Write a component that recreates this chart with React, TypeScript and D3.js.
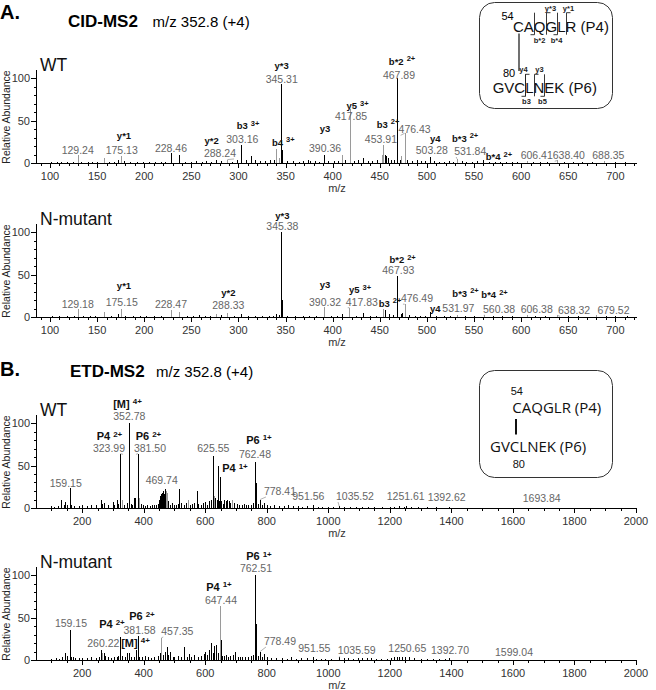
import React from 'react';
import * as d3 from 'd3';

// peaks: [m/z, relative abundance, grey?]
type Peak = [number, number, number?];
type Note = {
  ion?: string; ch?: string; ix?: number; iy?: number;
  num?: string; nx?: number; ny?: number; pk?: number; lead?: boolean;
};

const CID_WT: Peak[] = [
  [101, 1], [107, 1.5], [112, 1], [118, 1], [124, 1.5], [129.24, 9, 1], [133, 1], [140, 1.5], [145, 1], [150, 1],
  [157, 6, 1], [163, 1], [168, 1.5], [172, 4], [175.13, 8, 1], [178, 2], [185, 1], [192, 1.5], [199, 1], [205, 1],
  [211, 1.5], [218, 1], [222, 1.5], [228.46, 12], [237, 9], [243, 1.5], [250, 1], [255, 2], [261, 1.5], [266, 2],
  [271, 1.5], [276, 4], [281, 2], [288.24, 4, 1], [293, 1.5], [298, 3], [303.16, 21], [308, 3], [313, 8], [318, 3],
  [323, 2], [328, 2], [333, 3], [338, 4], [340.3, 17, 1], [342.5, 6, 1], [345.31, 93], [346.3, 15], [352, 2], [358, 2],
  [364, 1.5], [369, 2], [374, 3], [376, 2.5], [381, 2], [386, 1.5], [390.36, 10], [395, 2], [401, 2], [406, 2],
  [410, 9, 1], [413, 3], [417.85, 63, 1], [423, 2], [427, 3], [432, 6], [437, 2], [442, 2], [447, 3], [452, 10, 1],
  [453.91, 21, 1], [455.5, 10], [457, 8], [459, 6], [462, 3], [465, 3], [467.89, 100], [468.2, 19], [471, 4], [473, 8, 1],
  [476.43, 35, 1], [479, 3], [484, 2], [489, 3], [494, 2], [498, 2], [503.28, 7], [508, 2], [513, 1.5], [518, 1],
  [523, 2], [528, 1.5], [531.84, 5, 1], [537, 2], [542, 1.5], [548, 1], [553, 2], [560, 3], [566, 1], [572, 1],
  [578, 1], [584, 1], [590, 1], [596, 1], [606.41, 2, 1], [613, 1], [620, 1], [628, 1], [638.4, 3, 1], [645, 1],
  [655, 1], [665, 1], [675, 1], [688.35, 2, 1], [700, 1], [710, 1],
];

const CID_NM: Peak[] = [
  [102, 1], [110, 1], [118, 1], [125, 1], [129.18, 9, 1], [135, 1], [142, 1.5], [148, 1], [157, 6, 1], [165, 1],
  [172, 3], [175.15, 10, 1], [180, 1.5], [188, 1], [195, 1], [202, 1], [210, 1], [218, 1], [228.47, 8, 1], [237, 6, 1],
  [245, 1], [252, 1], [258, 2], [264, 1.5], [270, 1], [276, 4, 1], [281, 2], [288.33, 5, 1], [295, 1.5], [303, 3],
  [310, 1.5], [318, 1], [325, 1], [332, 1.5], [337, 1.5], [340, 4], [343, 2], [345.38, 100], [346.4, 20], [352, 1],
  [360, 1], [368, 1], [375, 1.5], [382, 1], [390.32, 12, 1], [398, 1], [405, 1], [410, 3], [417.83, 11, 1], [425, 1.5],
  [432, 5], [440, 1.5], [446, 1.5], [453, 10, 1], [456, 8], [460, 3], [464, 2], [467.93, 48], [468.3, 10], [472, 3],
  [474, 5], [476.49, 15, 1], [481, 2], [487, 1.5], [493, 1], [498, 1.5], [503.3, 6], [510, 1], [518, 1], [525, 1],
  [531.97, 2, 1], [540, 1], [550, 1], [560.38, 2, 1], [570, 1], [580, 1], [590, 1], [606.38, 2, 1], [615, 1], [625, 1],
  [638.32, 2, 1], [650, 1], [660, 1], [679.52, 2, 1], [690, 1], [700, 1], [712, 1],
];

const ETD_WT: Peak[] = [
  [100, 2], [110, 1], [122, 2], [130, 9], [140, 3], [145, 7], [152, 4], [159.15, 23], [165, 3], [175, 2],
  [190, 2], [200, 3], [215, 2], [230, 3], [245, 4], [260, 9], [265, 5], [272, 6], [285, 3], [300, 7],
  [305, 4], [312, 10], [318, 5], [323.99, 64], [330, 10, 1], [337, 4], [345, 6], [352.78, 100], [358, 5], [363, 4],
  [367, 12], [372, 12], [381.5, 64], [384, 12, 1], [390, 5], [398, 3], [405, 2], [412, 3], [420, 2], [428, 3],
  [435, 4], [440, 3], [445, 5], [450, 10], [453, 14], [456, 16], [459, 18], [462, 20], [465, 16], [469.74, 22],
  [472, 20, 1], [476, 18, 1], [480, 8], [486, 4], [492, 6], [500, 4], [505, 3], [510, 5], [516, 22], [522, 6],
  [530, 4], [538, 6], [543, 10, 1], [550, 4], [557, 5], [565, 6], [572, 20], [578, 5], [585, 4], [592, 6],
  [600, 7], [606, 4], [613, 8], [618, 10], [625.55, 61], [628, 14, 1], [633, 12], [638, 10], [641.5, 50], [644, 8],
  [647.44, 36], [652, 8], [658, 5], [662, 9], [668, 8], [672, 9], [677, 8], [682, 6], [688, 10, 1], [695, 6],
  [702, 5], [710, 4], [718, 3], [725, 5], [732, 4], [740, 3], [748, 4], [755, 6], [762.48, 54], [765, 30],
  [770, 5], [778.41, 10], [784, 4], [790, 6], [800, 3], [812, 2], [825, 3], [840, 2], [855, 2], [870, 3],
  [885, 2], [900, 2], [915, 1.5], [930, 2], [951.56, 3], [965, 1.5], [980, 1], [1000, 1.5], [1015, 1], [1035.52, 2],
  [1050, 1], [1070, 1], [1090, 1.5], [1110, 1], [1130, 1], [1150, 1], [1175, 1], [1200, 1], [1215, 1.5], [1230, 2],
  [1245, 1.5], [1251.61, 2], [1270, 1], [1290, 1], [1320, 1], [1350, 1], [1392.62, 1], [1450, 0.5], [1550, 0.5], [1693.84, 0.5],
];

const ETD_NM: Peak[] = [
  [100, 1], [115, 2], [125, 1], [135, 3], [145, 8], [152, 5], [159.15, 35], [163, 4], [170, 3], [178, 2],
  [190, 2], [200, 2], [215, 2], [230, 3], [245, 2], [255, 3], [260.22, 12], [266, 8, 1], [270, 8], [275, 5],
  [283, 3], [295, 2], [305, 3], [313, 4], [318, 5], [323.5, 27], [330, 5], [340, 3], [347, 8], [352.8, 8],
  [360, 3], [370, 4], [376, 12], [381.58, 28], [386, 4], [395, 3], [405, 5], [415, 3], [425, 2], [435, 3],
  [445, 5], [452, 8], [457.35, 26, 1], [462, 6], [470, 10], [475, 15], [480, 6], [486, 10], [494, 4], [500, 3],
  [510, 5], [520, 4], [532, 15], [540, 4], [546, 7], [555, 4], [565, 6], [575, 4], [585, 5], [595, 7],
  [600, 10], [605, 6], [612, 12], [620, 20], [625, 8], [630, 17], [636, 18], [641, 8], [647.44, 64, 1], [650, 24],
  [656, 5], [662, 5], [668, 6], [675, 4], [682, 5], [690, 6], [698, 9], [705, 4], [712, 3], [720, 3],
  [730, 4], [740, 3], [748, 5], [755, 6], [762.51, 100], [765, 42], [770, 5], [778.49, 10], [785, 4], [790, 7],
  [800, 3], [815, 2], [830, 2], [850, 2], [865, 1.5], [880, 3], [895, 1.5], [910, 2], [930, 2], [951.55, 3],
  [960, 1.5], [975, 1], [990, 1.5], [1010, 1], [1035.59, 3], [1050, 2], [1065, 2], [1080, 1.5], [1095, 2], [1110, 2.5],
  [1125, 2], [1140, 2.5], [1155, 1.5], [1170, 1], [1190, 1.5], [1205, 2], [1215, 3], [1222, 4], [1230, 4], [1238, 3],
  [1250.65, 4], [1262, 3], [1280, 2], [1300, 1], [1320, 1], [1340, 1], [1360, 1], [1380, 1], [1392.7, 2], [1420, 0.5],
  [1480, 0.5], [1599.04, 0.5],
];

// label positions in data units (m/z, % abundance)
const CID_WT_NOTES: Note[] = [
  { num: '129.24', nx: 129.4, ny: 10.6 },
  { ion: 'y*1', ix: 178.5, iy: 28.2, num: '175.13', nx: 176.1, ny: 10.6 },
  { num: '228.46', nx: 228.4, ny: 13.3 },
  { ion: 'y*2', ix: 271.6, iy: 22, num: '288.24', nx: 280.4, ny: 7.1, pk: 288.24, lead: true },
  { ion: 'b3', ch: '3+', ix: 310.2, iy: 39.5, num: '303.16', nx: 304.1, ny: 23.2 },
  { ion: 'b4', ch: '3+', ix: 347.5, iy: 20.4 },
  { ion: 'y*3', ix: 345.9, iy: 110.2, num: '345.31', nx: 345.9, ny: 93.8 },
  { ion: 'y3', ix: 391.9, iy: 36.8, num: '390.36', nx: 391.9, ny: 12.6 },
  { ion: 'y5', ch: '3+', ix: 426.4, iy: 63, num: '417.85', nx: 419.5, ny: 50.6 },
  { ion: 'b3', ch: '2+', ix: 458.8, iy: 41.2, num: '453.91', nx: 451.2, ny: 23.9 },
  { ion: 'b*2', ch: '2+', ix: 473.6, iy: 115.3, num: '467.89', nx: 470.4, ny: 98.5 },
  { num: '476.43', nx: 487, ny: 34.9, pk: 476.43, lead: true },
  { ion: 'y4', ix: 509, iy: 25, num: '503.28', nx: 505.2, ny: 10.6 },
  { ion: 'b*3', ch: '2+', ix: 540.5, iy: 25.1, num: '531.84', nx: 546, ny: 9.4, pk: 531.84, lead: true },
  { ion: 'b*4', ch: '2+', ix: 576.5, iy: 3.5 },
  { num: '606.41', nx: 616.6, ny: 4.4 },
  { num: '638.40', nx: 650.6, ny: 4.4, pk: 638.4, lead: true },
  { num: '688.35', nx: 692.6, ny: 4.4 },
];

const CID_NM_NOTES: Note[] = [
  { num: '129.18', nx: 129.4, ny: 10.9 },
  { ion: 'y*1', ix: 178.5, iy: 32.6, num: '175.15', nx: 176.1, ny: 12.9 },
  { num: '228.47', nx: 228.4, ny: 10.2 },
  { ion: 'y*2', ix: 289.2, iy: 24.5, num: '288.33', nx: 289.2, ny: 9.1 },
  { ion: 'y*3', ix: 346.6, iy: 115.3, num: '345.38', nx: 346.6, ny: 102.4 },
  { ion: 'y3', ix: 391.9, iy: 33.8, num: '390.32', nx: 391.9, ny: 13.3 },
  { ion: 'y5', ch: '3+', ix: 429, iy: 28, num: '417.83', nx: 430.9, ny: 13.3, pk: 417.83, lead: true },
  { ion: 'b3', ch: '2+', ix: 460.8, iy: 12.1 },
  { ion: 'b*2', ch: '2+', ix: 474.2, iy: 63.2, num: '467.93', nx: 469.7, ny: 50.2 },
  { num: '476.49', nx: 489.5, ny: 17.5, pk: 476.49, lead: true },
  { ion: 'y4', ix: 509, iy: 6 },
  { ion: 'b*3', ch: '2+', ix: 541, iy: 23.9, num: '531.97', nx: 533.4, ny: 6.3 },
  { ion: 'b*4', ch: '2+', ix: 571.8, iy: 22, num: '560.38', nx: 576.6, ny: 4.4, pk: 560.38, lead: true },
  { num: '606.38', nx: 616.6, ny: 4.4 },
  { num: '638.32', nx: 656.2, ny: 3.2, pk: 638.32, lead: true },
  { num: '679.52', nx: 698, ny: 3.2 },
];

const ETD_WT_NOTES: Note[] = [
  { num: '159.15', nx: 146.5, ny: 25.1 },
  { ion: 'P4', ch: '2+', ix: 288.9, iy: 79.5, num: '323.99', nx: 287.2, ny: 65.5, pk: 323.99, lead: true },
  { ion: '[M]', ch: '4+', ix: 347.4, iy: 117.8, num: '352.78', nx: 353.2, ny: 103.3 },
  { ion: 'P6', ch: '2+', ix: 415.6, iy: 79.5, num: '381.50', nx: 420.5, ny: 65.5, pk: 381.5, lead: true },
  { num: '469.74', nx: 458.5, ny: 27.9 },
  { num: '625.55', nx: 626.2, ny: 65.5 },
  { ion: 'P4', ch: '1+', ix: 696.7, iy: 42 },
  { ion: 'P6', ch: '1+', ix: 774.7, iy: 75.5, num: '762.48', nx: 761.7, ny: 58.5 },
  { num: '778.41', nx: 843, ny: 15.3, pk: 778.41, lead: true },
  { num: '951.56', nx: 935, ny: 9.4 },
  { num: '1035.52', nx: 1086.7, ny: 9.4, pk: 1035.52, lead: true },
  { num: '1251.61', nx: 1251.5, ny: 9.4 },
  { num: '1392.62', nx: 1384.7, ny: 8.2 },
  { num: '1693.84', nx: 1693.5, ny: 7.4 },
];

const ETD_NM_NOTES: Note[] = [
  { num: '159.15', nx: 163.7, ny: 39.2 },
  { ion: 'P4', ch: '2+', ix: 297, iy: 37.3 },
  { ion: 'P6', ch: '2+', ix: 394.5, iy: 46.5, num: '381.58', nx: 386.5, ny: 30.5 },
  { ion: '[M]', ch: '4+', ix: 373.4, iy: 15.5 },
  { num: '260.22', nx: 268.7, ny: 14.9 },
  { num: '457.35', nx: 509.2, ny: 29.4, pk: 457.35, lead: true },
  { ion: 'P4', ch: '1+', ix: 644.7, iy: 81.2, num: '647.44', nx: 651.2, ny: 65.5 },
  { ion: 'P6', ch: '1+', ix: 774.7, iy: 117.6, num: '762.51', nx: 765, ny: 103.9 },
  { num: '778.49', nx: 843, ny: 17.6, pk: 778.49, lead: true },
  { num: '951.55', nx: 954.5, ny: 9.8 },
  { num: '1035.59', nx: 1092.2, ny: 6.7, pk: 1035.59, lead: true },
  { num: '1250.65', nx: 1256.7, ny: 9.8 },
  { num: '1392.70', nx: 1395.5, ny: 6.7 },
  { num: '1599.04', nx: 1603.5, ny: 4.7 },
];

const Y_TICKS = [0, 50, 100];
const CID_TICKS = d3.range(100, 701, 50);
const CID_MINOR = d3.range(90, 721, 10);
const ETD_TICKS = d3.range(200, 2001, 200);
const ETD_MINOR = d3.range(100, 2001, 50);

const FONT = "'Liberation Sans', Arial, Helvetica, sans-serif";

const xCID = d3.scaleLinear().domain([85.1, 723]).range([36, 637]);
const xETD = d3.scaleLinear().domain([50, 2000]).range([36, 636]);

function Spectrum({ peaks, notes, x, y0, name, ticks, minor, ionSize, supSize }: {
  peaks: Peak[]; notes: Note[]; x: d3.ScaleLinear<number, number>; y0: number; name: string;
  ticks: number[]; minor: number[]; ionSize: number; supSize: number;
}) {
  const y = d3.scaleLinear().domain([0, 100]).range([y0, y0 - 85]);
  const [xa, xb] = x.range();
  const peakTop = (m: number) => {
    const p = peaks.reduce((a, b) => (Math.abs(b[0] - m) < Math.abs(a[0] - m) ? b : a));
    return y(p[1]);
  };
  return (
    <g fontFamily={FONT}>
      {peaks.map(([m, v, g], i) => (
        <line key={i} x1={Math.round(x(m)) + 0.5} x2={Math.round(x(m)) + 0.5} y1={y0} y2={y(v)}
          stroke={g ? '#9a9a9a' : '#000'} strokeWidth={1} shapeRendering="crispEdges" />
      ))}
      {/* axes */}
      <line x1={xa} x2={xb} y1={y0 + 0.5} y2={y0 + 0.5} stroke="#000" shapeRendering="crispEdges" />
      <line x1={xa + 0.5} x2={xa + 0.5} y1={y0} y2={y(110)} stroke="#000" shapeRendering="crispEdges" />
      {minor.filter(t => x(t) >= xa && x(t) <= xb + 1).map(t => (
        <line key={'m' + t} x1={Math.round(x(t)) + 0.5} x2={Math.round(x(t)) + 0.5} y1={y0} y2={y0 + 3}
          stroke="#000" shapeRendering="crispEdges" />
      ))}
      {ticks.map(t => (
        <g key={t}>
          <line x1={Math.round(x(t)) + 0.5} x2={Math.round(x(t)) + 0.5} y1={y0} y2={y0 + 5} stroke="#000" shapeRendering="crispEdges" />
          <text x={x(t)} y={y0 + 17} textAnchor="middle" fontSize={11} fill="#333">{t}</text>
        </g>
      ))}
      {d3.range(10, 110, 10).map(t => (
        <line key={'ym' + t} x1={xa - 2} x2={xa} y1={Math.round(y(t)) + 0.5} y2={Math.round(y(t)) + 0.5}
          stroke="#000" shapeRendering="crispEdges" />
      ))}
      {Y_TICKS.map(t => (
        <g key={'y' + t}>
          <line x1={xa - 5} x2={xa} y1={Math.round(y(t)) + 0.5} y2={Math.round(y(t)) + 0.5} stroke="#000" shapeRendering="crispEdges" />
          <text x={xa - 6} y={y(t) + 4} textAnchor="end" fontSize={11} fill="#333">{t}</text>
        </g>
      ))}
      <text transform={`translate(10,${y0 - 46}) rotate(-90)`} textAnchor="middle" fontSize={10.5} fill="#222">
        Relative Abundance
      </text>
      <text x={337} y={y0 + 29} textAnchor="middle" fontSize={11} fill="#333">m/z</text>
      <text x={40} y={y0 - 92} fontSize={17.5} fill="#111">{name}</text>
      {/* annotations */}
      {notes.map((n, i) => {
        const parts: React.ReactNode[] = [];
        if (n.num && n.lead && n.pk !== undefined) {
          const w = (n.num.length - 1) * 5.84 + 2.9;
          const px = x(n.pk);
          const cx = x(n.nx!);
          const ex = px > cx ? cx + w / 2 - 2 : cx - w / 2 + 2;
          parts.push(<line key="l" x1={px} y1={peakTop(n.pk)} x2={ex} y2={y(n.ny!) + 2}
            stroke="#a0a0a0" strokeWidth={0.8} />);
        }
        if (n.num) {
          parts.push(<text key="n" x={x(n.nx!)} y={y(n.ny!)} textAnchor="middle" fontSize={10.5} fill="#666">{n.num}</text>);
        }
        if (n.ion) {
          parts.push(
            <text key="i" x={x(n.ix!)} y={y(n.iy!)} textAnchor="middle" fontSize={ionSize} fontWeight="bold" fill="#111">
              <tspan>{n.ion}</tspan>
              {n.ch && <tspan dx={3} dy={-3.5} fontSize={supSize}>{n.ch}</tspan>}
            </text>
          );
        }
        return <g key={i}>{parts}</g>;
      })}
    </g>
  );
}

// residue widths (em) for Liberation Sans, used to place cleavage brackets
const EM: Record<string, number> = { C: 0.722, A: 0.667, Q: 0.778, G: 0.778, L: 0.556, R: 0.722, V: 0.667, N: 0.722, E: 0.667, K: 0.667 };
const P4_SEQ = 'CAQGLR';
const P6_SEQ = 'GVCLNEK';
type Cut = { after: number; kind: string; label: string; dx: number };
const P4_CUTS: Cut[] = [
  { after: 2, kind: 'b', label: 'b*2', dx: 5 }, { after: 3, kind: 'y', label: 'y*3', dx: 4 },
  { after: 4, kind: 'b', label: 'b*4', dx: -1 }, { after: 5, kind: 'y', label: 'y*1', dx: 2 },
];
const P6_CUTS: Cut[] = [
  { after: 3, kind: 'y', label: 'y4', dx: -2 }, { after: 3, kind: 'b', label: 'b3', dx: 1 },
  { after: 4, kind: 'y', label: 'y3', dx: 5 }, { after: 5, kind: 'b', label: 'b5', dx: -2 },
];

function Peptide({ seq, tag, x0, base, cuts, fs }: { seq: string; tag: string; x0: number; base: number; cuts: Cut[]; fs: number }) {
  const cutX = (k: number) => x0 + seq.slice(0, k).split('').reduce((s, c) => s + EM[c] * fs, 0);
  return (
    <g fontFamily={FONT}>
      <text x={x0} y={base} fontSize={fs} fill="#111">{seq} ({tag})</text>
      {cuts.map((c, i) => {
        const cx = Math.round(cutX(c.after)) + 0.5;
        const top = base - 19, bot = base + 3;
        return (
          <g key={i} stroke="#222" strokeWidth={0.9} fill="none">
            <line x1={cx} x2={cx} y1={top} y2={bot} />
            {c.kind === 'b'
              ? <line x1={cx - 4} x2={cx} y1={bot} y2={bot} />
              : <line x1={cx} x2={cx + 4} y1={top} y2={top} />}
            <text x={cx + c.dx} y={c.kind === 'b' ? bot + 8 : top - 2} textAnchor="middle" fontSize={7.5}
              fontWeight="bold" fill="#222" stroke="none">{c.label}</text>
          </g>
        );
      })}
    </g>
  );
}

export default function App() {
  return (
    <svg width={656} height={690} style={{ position: 'absolute', left: 0, top: 0, background: '#fff' }}
      fontFamily={FONT}>
      {/* panel A */}
      <text x={0} y={18.5} fontSize={20} fontWeight="bold">A.</text>
      <text x={68} y={26.7} fontSize={17} fontWeight="bold">CID-MS2</text>
      <text x={152.5} y={26.7} fontSize={15}>m/z 352.8 (+4)</text>
      <Spectrum peaks={CID_WT} notes={CID_WT_NOTES} x={xCID} y0={163} name="WT" ticks={CID_TICKS} minor={CID_MINOR} ionSize={9.5} supSize={7.5} />
      <Spectrum peaks={CID_NM} notes={CID_NM_NOTES} x={xCID} y0={317} name="N-mutant" ticks={CID_TICKS} minor={CID_MINOR} ionSize={9.5} supSize={7.5} />
      <rect x={479.5} y={2.5} width={133} height={106} rx={15} fill="#fff" stroke="#333" strokeWidth={1} />
      <text x={501.5} y={20} fontSize={11} fontFamily={FONT}>54</text>
      <text x={503} y={77} fontSize={11} fontFamily={FONT}>80</text>
      <line x1={519} x2={519} y1={33.5} y2={71} stroke="#111" strokeWidth={1.2} />
      <Peptide seq={P4_SEQ} tag="P4" x0={513} base={31.7} cuts={P4_CUTS} fs={15} />
      <Peptide seq={P6_SEQ} tag="P6" x0={492.7} base={93.3} cuts={P6_CUTS} fs={15} />

      {/* panel B */}
      <text x={0} y={375.7} fontSize={20} fontWeight="bold">B.</text>
      <text x={70} y={376.7} fontSize={17} fontWeight="bold">ETD-MS2</text>
      <text x={156} y={376.7} fontSize={15}>m/z 352.8 (+4)</text>
      <Spectrum peaks={ETD_WT} notes={ETD_WT_NOTES} x={xETD} y0={508} name="WT" ticks={ETD_TICKS} minor={ETD_MINOR} ionSize={11} supSize={8} />
      <Spectrum peaks={ETD_NM} notes={ETD_NM_NOTES} x={xETD} y0={660} name="N-mutant" ticks={ETD_TICKS} minor={ETD_MINOR} ionSize={11} supSize={8} />
      <rect x={479.5} y={370.5} width={133} height={107} rx={15} fill="#fff" stroke="#333" strokeWidth={1} />
      <g fill="#111">
        <text x={510.7} y={394.5} fontSize={11} fontFamily={FONT}>54</text>
        <text x={512.3} y={413.3} fontSize={15} fontFamily="'Open Sans', 'Noto Sans', sans-serif">CAQGLR (P4)</text>
        <line x1={516} x2={516} y1={419} y2={434.5} stroke="#111" strokeWidth={2} />
        <text x={490} y={452.3} fontSize={15} fontFamily="'Open Sans', 'Noto Sans', sans-serif">GVCLNEK (P6)</text>
        <text x={512.7} y={467.5} fontSize={11} fontFamily={FONT}>80</text>
      </g>
    </svg>
  );
}
